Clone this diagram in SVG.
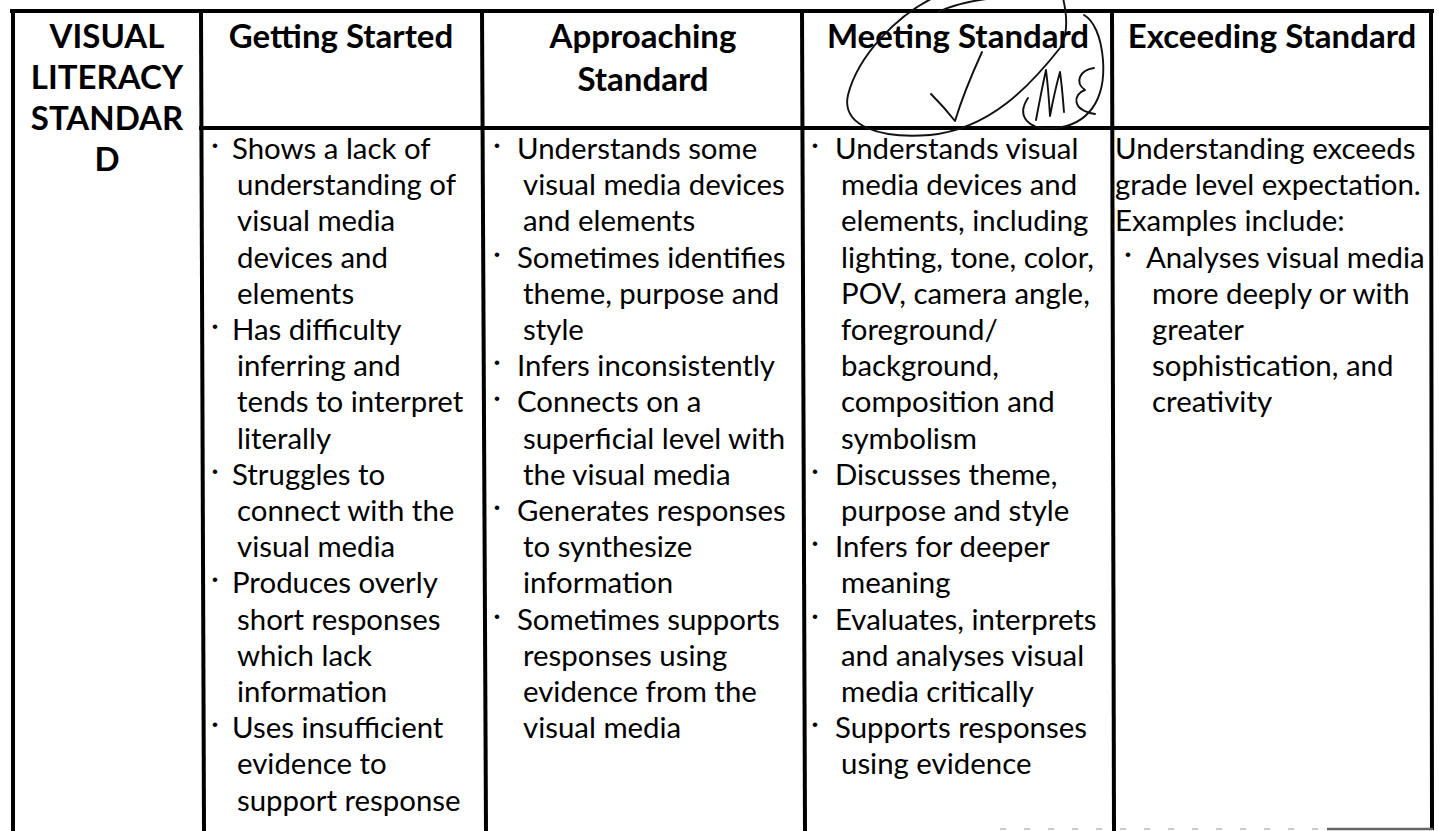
<svg xmlns="http://www.w3.org/2000/svg" width="1439" height="831" viewBox="0 0 1439 831">
<style>
  .grid line { stroke: #000; stroke-width: 4; stroke-linecap: square; }
  .h { font-family: Lato, "Liberation Sans", sans-serif; font-weight: bold; font-size: 33px; fill: #000; text-anchor: middle; }
  .b { font-family: Lato, "Liberation Sans", sans-serif; font-size: 29.4px; fill: #000; }
  .bu { font-family: "Liberation Sans", sans-serif; font-size: 17px; fill: #000; }
  .ink { fill: none; stroke: #111; stroke-width: 1.9; stroke-linecap: round; stroke-linejoin: round; }
</style>
<rect width="1439" height="831" fill="#fff"/>

<g id="grid" class="grid">
  <line x1="12" y1="11" x2="1432" y2="11"/>
  <line x1="13" y1="11" x2="13" y2="831"/>
  <line x1="201" y1="11" x2="204" y2="831"/>
  <line x1="482" y1="11" x2="486" y2="831"/>
  <line x1="802" y1="11" x2="805" y2="831"/>
  <line x1="1112" y1="11" x2="1114" y2="831"/>
  <line x1="1431" y1="11" x2="1432" y2="828"/>
  <line x1="201" y1="128" x2="1431" y2="128"/>
</g>
<g id="scan-marks">
  <line x1="1000" y1="829" x2="1327" y2="829" stroke="#bbb" stroke-width="1.5" stroke-dasharray="6 18"/>
  <line x1="1327" y1="829" x2="1433" y2="829" stroke="#666" stroke-width="2.5"/>
</g>

<g id="col-standard">
  <text class="h" x="107" y="48">VISUAL</text>
  <text class="h" x="107" y="89">LITERACY</text>
  <text class="h" x="107" y="130">STANDAR</text>
  <text class="h" x="107" y="171">D</text>
</g>

<g id="col-getting-started">
  <text class="h" x="341" y="48">Getting Started</text>
  <text class="bu" x="212" y="151">•</text>
  <text class="bu" x="212" y="332">•</text>
  <text class="bu" x="212" y="477">•</text>
  <text class="bu" x="212" y="585">•</text>
  <text class="bu" x="212" y="730">•</text>
  <text class="b">
    <tspan x="232" y="159">Shows a lack of</tspan>
    <tspan x="237" y="195.2">understanding of</tspan>
    <tspan x="237" y="231.4">visual media</tspan>
    <tspan x="237" y="267.6">devices and</tspan>
    <tspan x="237" y="303.8">elements</tspan>
    <tspan x="232" y="340">Has difficulty</tspan>
    <tspan x="237" y="376.2">inferring and</tspan>
    <tspan x="237" y="412.4">tends to interpret</tspan>
    <tspan x="237" y="448.6">literally</tspan>
    <tspan x="232" y="484.8">Struggles to</tspan>
    <tspan x="237" y="521">connect with the</tspan>
    <tspan x="237" y="557.2">visual media</tspan>
    <tspan x="232" y="593.4">Produces overly</tspan>
    <tspan x="237" y="629.6">short responses</tspan>
    <tspan x="237" y="665.8">which lack</tspan>
    <tspan x="237" y="702">information</tspan>
    <tspan x="232" y="738.2">Uses insufficient</tspan>
    <tspan x="237" y="774.4">evidence to</tspan>
    <tspan x="237" y="810.6">support response</tspan>
  </text>
</g>

<g id="col-approaching">
  <text class="h" x="643" y="48">Approaching</text>
  <text class="h" x="643" y="91">Standard</text>
  <text class="bu" x="494" y="151">•</text>
  <text class="bu" x="494" y="260">•</text>
  <text class="bu" x="494" y="368">•</text>
  <text class="bu" x="494" y="404">•</text>
  <text class="bu" x="494" y="513">•</text>
  <text class="bu" x="494" y="622">•</text>
  <text class="b">
    <tspan x="517" y="159">Understands some</tspan>
    <tspan x="523" y="195.2">visual media devices</tspan>
    <tspan x="523" y="231.4">and elements</tspan>
    <tspan x="517" y="267.6">Sometimes identifies</tspan>
    <tspan x="523" y="303.8">theme,  purpose and</tspan>
    <tspan x="523" y="340">style</tspan>
    <tspan x="517" y="376.2">Infers inconsistently</tspan>
    <tspan x="517" y="412.4">Connects on a</tspan>
    <tspan x="523" y="448.6">superficial level with</tspan>
    <tspan x="523" y="484.8">the visual media</tspan>
    <tspan x="517" y="521">Generates responses</tspan>
    <tspan x="523" y="557.2">to synthesize</tspan>
    <tspan x="523" y="593.4">information</tspan>
    <tspan x="517" y="629.6">Sometimes supports</tspan>
    <tspan x="523" y="665.8">responses using</tspan>
    <tspan x="523" y="702">evidence from the</tspan>
    <tspan x="523" y="738.2">visual media</tspan>
  </text>
</g>

<g id="col-meeting">
  <text class="h" x="958" y="48">Meeting Standard</text>
  <text class="bu" x="812" y="151">•</text>
  <text class="bu" x="812" y="477">•</text>
  <text class="bu" x="812" y="549">•</text>
  <text class="bu" x="812" y="622">•</text>
  <text class="bu" x="812" y="730">•</text>
  <text class="b">
    <tspan x="835" y="159">Understands visual</tspan>
    <tspan x="841" y="195.2">media devices and</tspan>
    <tspan x="841" y="231.4">elements, including</tspan>
    <tspan x="841" y="267.6">lighting, tone, color,</tspan>
    <tspan x="841" y="303.8">POV, camera angle,</tspan>
    <tspan x="841" y="340">foreground/</tspan>
    <tspan x="841" y="376.2">background,</tspan>
    <tspan x="841" y="412.4">composition and</tspan>
    <tspan x="841" y="448.6">symbolism</tspan>
    <tspan x="835" y="484.8">Discusses theme,</tspan>
    <tspan x="841" y="521">purpose and style</tspan>
    <tspan x="835" y="557.2">Infers for deeper</tspan>
    <tspan x="841" y="593.4">meaning</tspan>
    <tspan x="835" y="629.6">Evaluates, interprets</tspan>
    <tspan x="841" y="665.8">and analyses visual</tspan>
    <tspan x="841" y="702">media critically</tspan>
    <tspan x="835" y="738.2">Supports responses</tspan>
    <tspan x="841" y="774.4">using evidence</tspan>
  </text>
</g>

<g id="col-exceeding">
  <text class="h" x="1272" y="48">Exceeding Standard</text>
  <text class="bu" x="1125" y="260">•</text>
  <text class="b">
    <tspan x="1115" y="159">Understanding exceeds</tspan>
    <tspan x="1115" y="195.2">grade level expectation.</tspan>
    <tspan x="1115" y="231.4">Examples include:</tspan>
    <tspan x="1146" y="267.6">Analyses visual media</tspan>
    <tspan x="1152" y="303.8">more deeply or with</tspan>
    <tspan x="1152" y="340">greater</tspan>
    <tspan x="1152" y="376.2">sophistication, and</tspan>
    <tspan x="1152" y="412.4">creativity</tspan>
  </text>
</g>

<g id="handwriting" class="ink">
  <path d="M933,-2 C898,15 858,55 848,95 C841,126 880,139 930,135 C990,129 1030,86 1060,48 C1068,35 1067,15 1063,-2"/>
  <path d="M938,12 C955,4 975,0 995,-2"/>
  <path d="M931,94 C940,103 948,112 955,121 C962,98 972,74 982,52"/>
  <path d="M1028,98 C1016,116 1028,131 1055,128 C1088,125 1106,100 1103,60 C1101,35 1093,20 1084,15"/>
  <path d="M1036,120 C1039,104 1042,88 1046,70 C1048,86 1049,100 1050,116 C1053,100 1056,86 1060,72 C1062,86 1063,100 1064,112 M1094,68 C1080,70 1074,82 1085,90 C1073,94 1071,110 1095,114"/>
</g>
</svg>
